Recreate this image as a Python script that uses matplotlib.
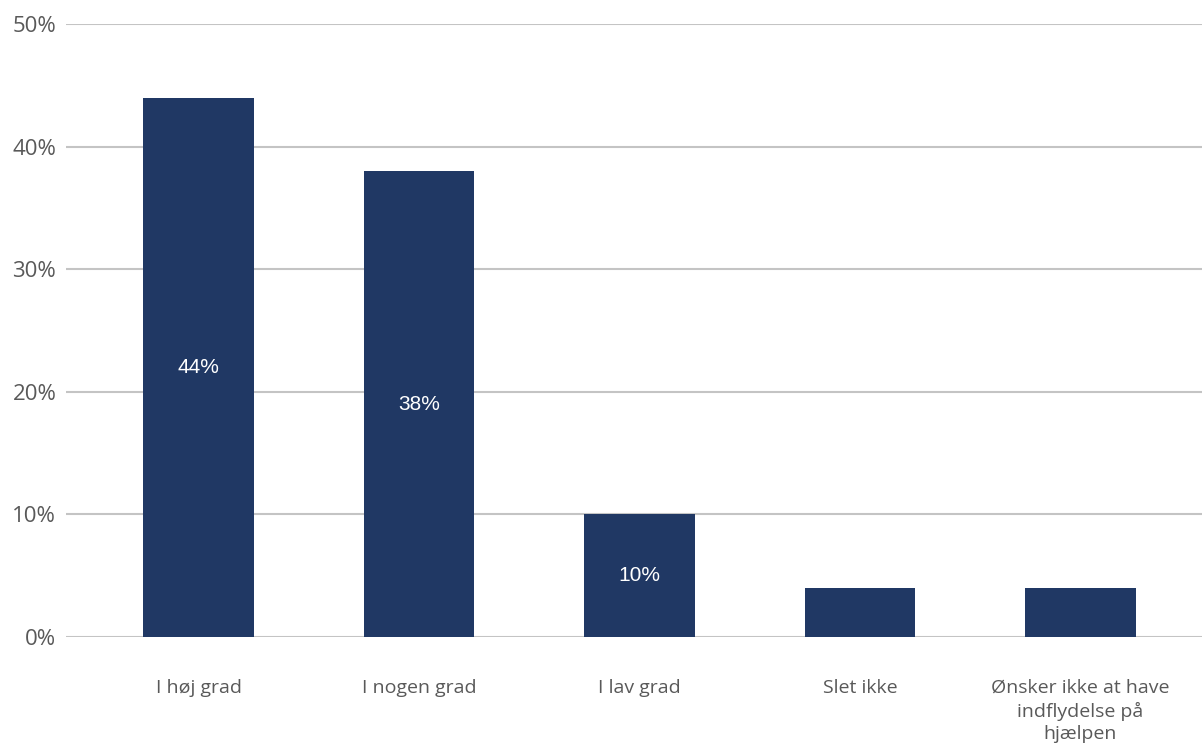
import matplotlib
matplotlib.use("Agg")
import matplotlib.pyplot as plt
from matplotlib.ticker import FuncFormatter

categories = ["I høj grad", "I nogen grad", "I lav grad", "Slet ikke",
              "Ønsker ikke at have\nindflydelse på\nhjælpen"]
values = [44, 38, 10, 4, 4]
shown_labels = [True, True, True, False, False]
yticks = [0, 10, 20, 30, 40, 50]

bar_color = "#203864"
grid_color = "#c4c4c4"
text_color = "#595959"

fig = plt.figure(figsize=(12.02, 7.44), dpi=100)
ax = fig.add_axes([0.0549, 0.1438, 0.9451, 0.8239])

x = list(range(len(categories)))
bars = ax.bar(x, values, width=0.503, color=bar_color, zorder=3)

for b, v, show in zip(bars, values, shown_labels):
    if show:
        ax.text(b.get_x() + b.get_width() / 2, v / 2, f"{v}%",
                ha="center", va="center", color="white", fontsize=15,
                family="Liberation Sans", zorder=4)

ax.set_ylim(0, 50)
ax.set_xlim(-0.601, 4.551)
ax.set_yticks(yticks)
ax.yaxis.set_major_formatter(FuncFormatter(lambda v, p: f"{v:.0f}%"))
ax.grid(axis="y", color=grid_color, linewidth=1.5, zorder=0)
ax.set_axisbelow(True)

ax.set_xticks(x)
ax.set_xticklabels(categories, fontsize=14, color=text_color,
                   family="Open Sans", linespacing=1.32)
for lbl in ax.get_yticklabels():
    lbl.set_fontsize(16)
    lbl.set_color(text_color)
    lbl.set_family("Open Sans")

ax.tick_params(axis="x", length=0, pad=30)
ax.tick_params(axis="y", length=0, pad=7)
for s in ax.spines.values():
    s.set_visible(False)

fig.savefig("out.png", dpi=100, facecolor="white")
